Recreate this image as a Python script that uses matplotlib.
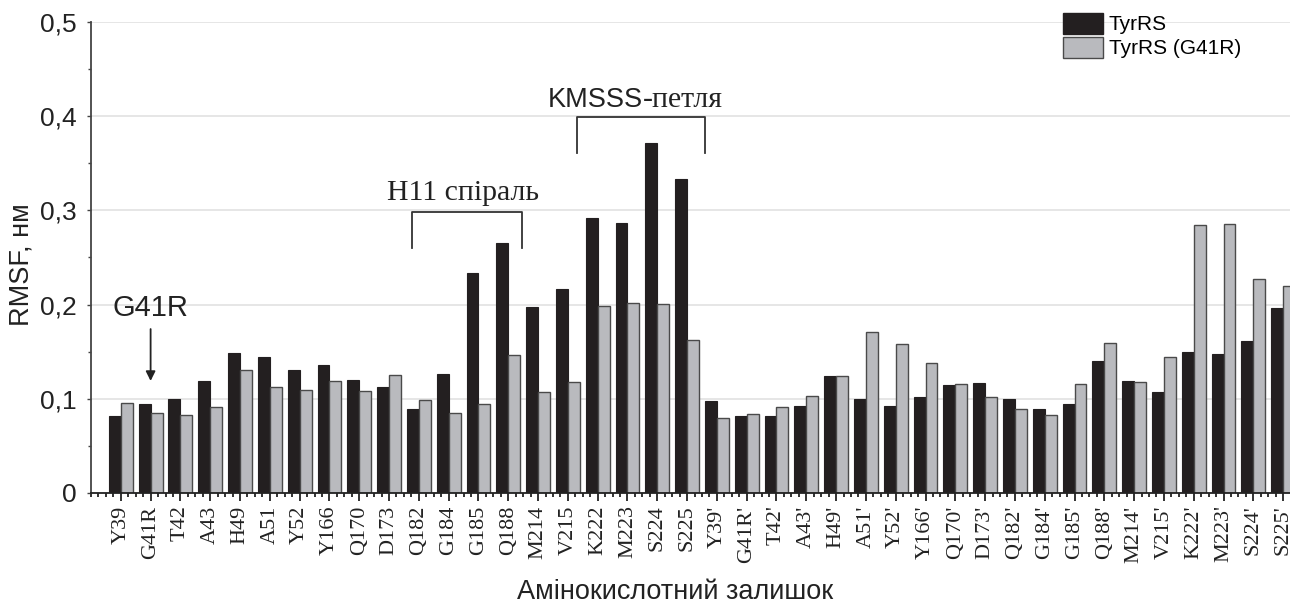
import matplotlib
matplotlib.use("Agg")
import matplotlib.pyplot as plt
from matplotlib.ticker import MultipleLocator, FuncFormatter
from matplotlib.patches import Patch
import numpy as np

# Residues (first 20: chain A, primed: chain B)
residues = ['Y39', 'G41R', 'T42', 'A43', 'H49', 'A51', 'Y52', 'Y166', 'Q170', 'D173',
            'Q182', 'G184', 'G185', 'Q188', 'M214', 'V215', 'K222', 'M223', 'S224', 'S225']
labels = residues + [r + "'" for r in residues]

# RMSF, nm
tyrrs = [0.082, 0.095, 0.100, 0.119, 0.149, 0.144, 0.131, 0.136, 0.120, 0.112,
         0.089, 0.126, 0.234, 0.265, 0.197, 0.2165, 0.2915, 0.287, 0.372, 0.333,
         0.098, 0.082, 0.082, 0.092, 0.124, 0.0995, 0.092, 0.102, 0.115, 0.117,
         0.100, 0.0895, 0.0945, 0.140, 0.1185, 0.1075, 0.1497, 0.148, 0.161, 0.196]
tyrrs_g41r = [0.096, 0.085, 0.083, 0.091, 0.131, 0.112, 0.109, 0.119, 0.108, 0.125,
              0.099, 0.085, 0.094, 0.146, 0.107, 0.118, 0.198, 0.2015, 0.2005, 0.162,
              0.080, 0.084, 0.091, 0.103, 0.124, 0.171, 0.1585, 0.138, 0.116, 0.102,
              0.0895, 0.083, 0.116, 0.159, 0.1175, 0.144, 0.2845, 0.2855, 0.2275, 0.2197]

sans = 'Liberation Sans'
serif = 'Liberation Serif'
dark = '#231f20'
light = '#b9babe'

fig = plt.figure(figsize=(12.9, 6.06), dpi=100)
ax = fig.add_axes([91 / 1290, 113 / 606, 1 - 91 / 1290, 471 / 606])

x = np.arange(len(labels))
ax.bar(x - 0.2, tyrrs, width=0.4, color=dark, edgecolor=dark, linewidth=0.8, zorder=3)
ax.bar(x + 0.2, tyrrs_g41r, width=0.4, color=light, edgecolor='#4a4a4a', linewidth=1.0, zorder=3)

ax.set_xlim(-1, 39.23)
ax.set_ylim(0, 0.5)

# grid and spines
ax.yaxis.set_major_locator(MultipleLocator(0.1))
ax.yaxis.set_minor_locator(MultipleLocator(0.05))
ax.grid(axis='y', which='major', color='#e2e2e2', linewidth=1.2, zorder=0)
for s in ['top', 'right']:
    ax.spines[s].set_visible(False)
ax.spines['left'].set_color('#444444')
ax.spines['left'].set_linewidth(1.3)
ax.spines['bottom'].set_color('#222222')
ax.spines['bottom'].set_linewidth(1.3)
ax.spines['bottom'].set_zorder(4)

ax.yaxis.set_major_formatter(FuncFormatter(lambda v, p: '0' if abs(v) < 1e-9 else f'{v:.1f}'.replace('.', ',')))
ax.tick_params(axis='y', which='major', length=3, width=1, color='#444444', pad=7,
               labelsize=19, labelcolor='#222222')
ax.tick_params(axis='y', which='minor', length=2, width=1, color='#444444')
for t in ax.get_yticklabels():
    t.set_fontfamily(sans)

ax.set_xticks(x)
ax.set_xticklabels(labels, rotation=90, fontfamily=serif, fontsize=16, color='#222222')
ax.xaxis.set_minor_locator(MultipleLocator(0.25))
ax.tick_params(axis='x', which='major', length=6, width=1.3, color='#222222', pad=3)
ax.tick_params(axis='x', which='minor', length=3, width=1.3, color='#222222')

# axis titles
fig.text(22 / 1290, 1 - 265 / 606, 'RMSF, нм', rotation=90, ha='center', va='center',
         fontfamily=sans, fontsize=19.5, color='#222222')
fig.text(675 / 1290, 1 - 592 / 606, 'Амінокислотний залишок', ha='center', va='center',
         fontfamily=sans, fontsize=19.5, color='#222222')

# G41R mutation marker
ax.text(1.0, 0.196, 'G41R', ha='center', va='center', fontfamily=sans, fontsize=21, color='#222222')
ax.annotate('', xy=(1.0, 0.116), xytext=(1.0, 0.177),
            arrowprops=dict(arrowstyle='-|>', color='#222222', lw=1.3, mutation_scale=14))

# brackets
ax.plot([9.77, 9.77, 13.46, 13.46], [0.260, 0.2985, 0.2985, 0.260], color='#333333', lw=1.3, zorder=4)
ax.text(11.48, 0.318, 'Н11 спіраль', ha='center', va='center', fontfamily=serif, fontsize=21.5, color='#222222')
ax.plot([15.3, 15.3, 19.6, 19.6], [0.3605, 0.3993, 0.3993, 0.3605], color='#333333', lw=1.3, zorder=4)
ax.text(17.52, 0.417, 'KMSSS', ha='right', va='center', fontfamily=sans, fontsize=19.5, color='#222222')
ax.text(17.52, 0.417, '-петля', ha='left', va='center', fontfamily=serif, fontsize=21.5, color='#222222')

# legend
handles = [Patch(facecolor=dark, edgecolor=dark, label='TyrRS'),
           Patch(facecolor=light, edgecolor='#4a4a4a', label='TyrRS (G41R)')]
fig.legend(handles=handles, loc='upper left', bbox_to_anchor=(1063 / 1290, 1 - 13 / 606),
           frameon=False, borderpad=0, borderaxespad=0, handlelength=1.9, handleheight=1.15,
           handletextpad=0.3, labelspacing=0.12, prop={'family': sans, 'size': 15})

fig.savefig('out.png', dpi=100)
